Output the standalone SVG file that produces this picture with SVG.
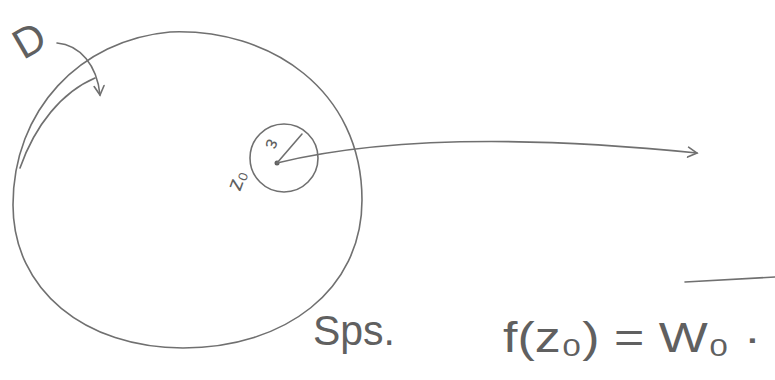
<svg xmlns="http://www.w3.org/2000/svg" width="775" height="380" viewBox="0 0 775 380">
<defs>
<style>
.ln{fill:none;stroke:#707070;stroke-width:1.6;stroke-linecap:round;stroke-linejoin:round}
.hw{font-family:"Liberation Sans","DejaVu Sans",sans-serif;fill:#606060;font-weight:normal}
</style>
<marker id="ah" viewBox="0 0 12 12" refX="10" refY="6" markerWidth="12" markerHeight="12" markerUnits="userSpaceOnUse" orient="auto">
<path d="M1,1 L10,6 L1,11" fill="none" stroke="#707070" stroke-width="1.6" stroke-linecap="round"/>
</marker>
</defs>
<rect width="775" height="380" fill="#ffffff"/>
<g id="domain">
<path class="ln" d="M13,205 C13,110 80,40 170,32 C270,28 362,90 362,200 C362,290 285,348 183,348 C85,348 13,290 13,205 Z"/>
<path class="ln" d="M20,168 C35,125 62,92 95,78"/>
</g>
<g id="disk">
<circle class="ln" cx="284" cy="158" r="34"/>
<circle cx="277" cy="163" r="2.5" fill="#606060"/>
<path class="ln" d="M277,163 L302,134"/>
<text class="hw" x="0" y="0" font-size="20" transform="translate(268,138) rotate(110)">ε</text>
<text class="hw" x="0" y="0" font-size="22" transform="translate(240,192) rotate(-70)">z₀</text>
</g>
<g id="label-D">
<text class="hw" x="12" y="52" font-size="42" transform="rotate(-30 33 35)">D</text>
</g>
<g id="connectors">
<path class="ln" d="M57,43 C80,45 97,65 100,95" marker-end="url(#ah)"/>
<path class="ln" d="M277,163 C330,150 450,128 697,153" marker-end="url(#ah)"/>
<path class="ln" d="M685,282 L775,277"/>
</g>
<g id="labels">
<text class="hw" x="313" y="345" font-size="42" textLength="82" lengthAdjust="spacingAndGlyphs">Sps.</text>
<text class="hw" x="503" y="352" font-size="42" textLength="258" lengthAdjust="spacingAndGlyphs">f(z₀) = W₀ ·</text>
</g>
</svg>
